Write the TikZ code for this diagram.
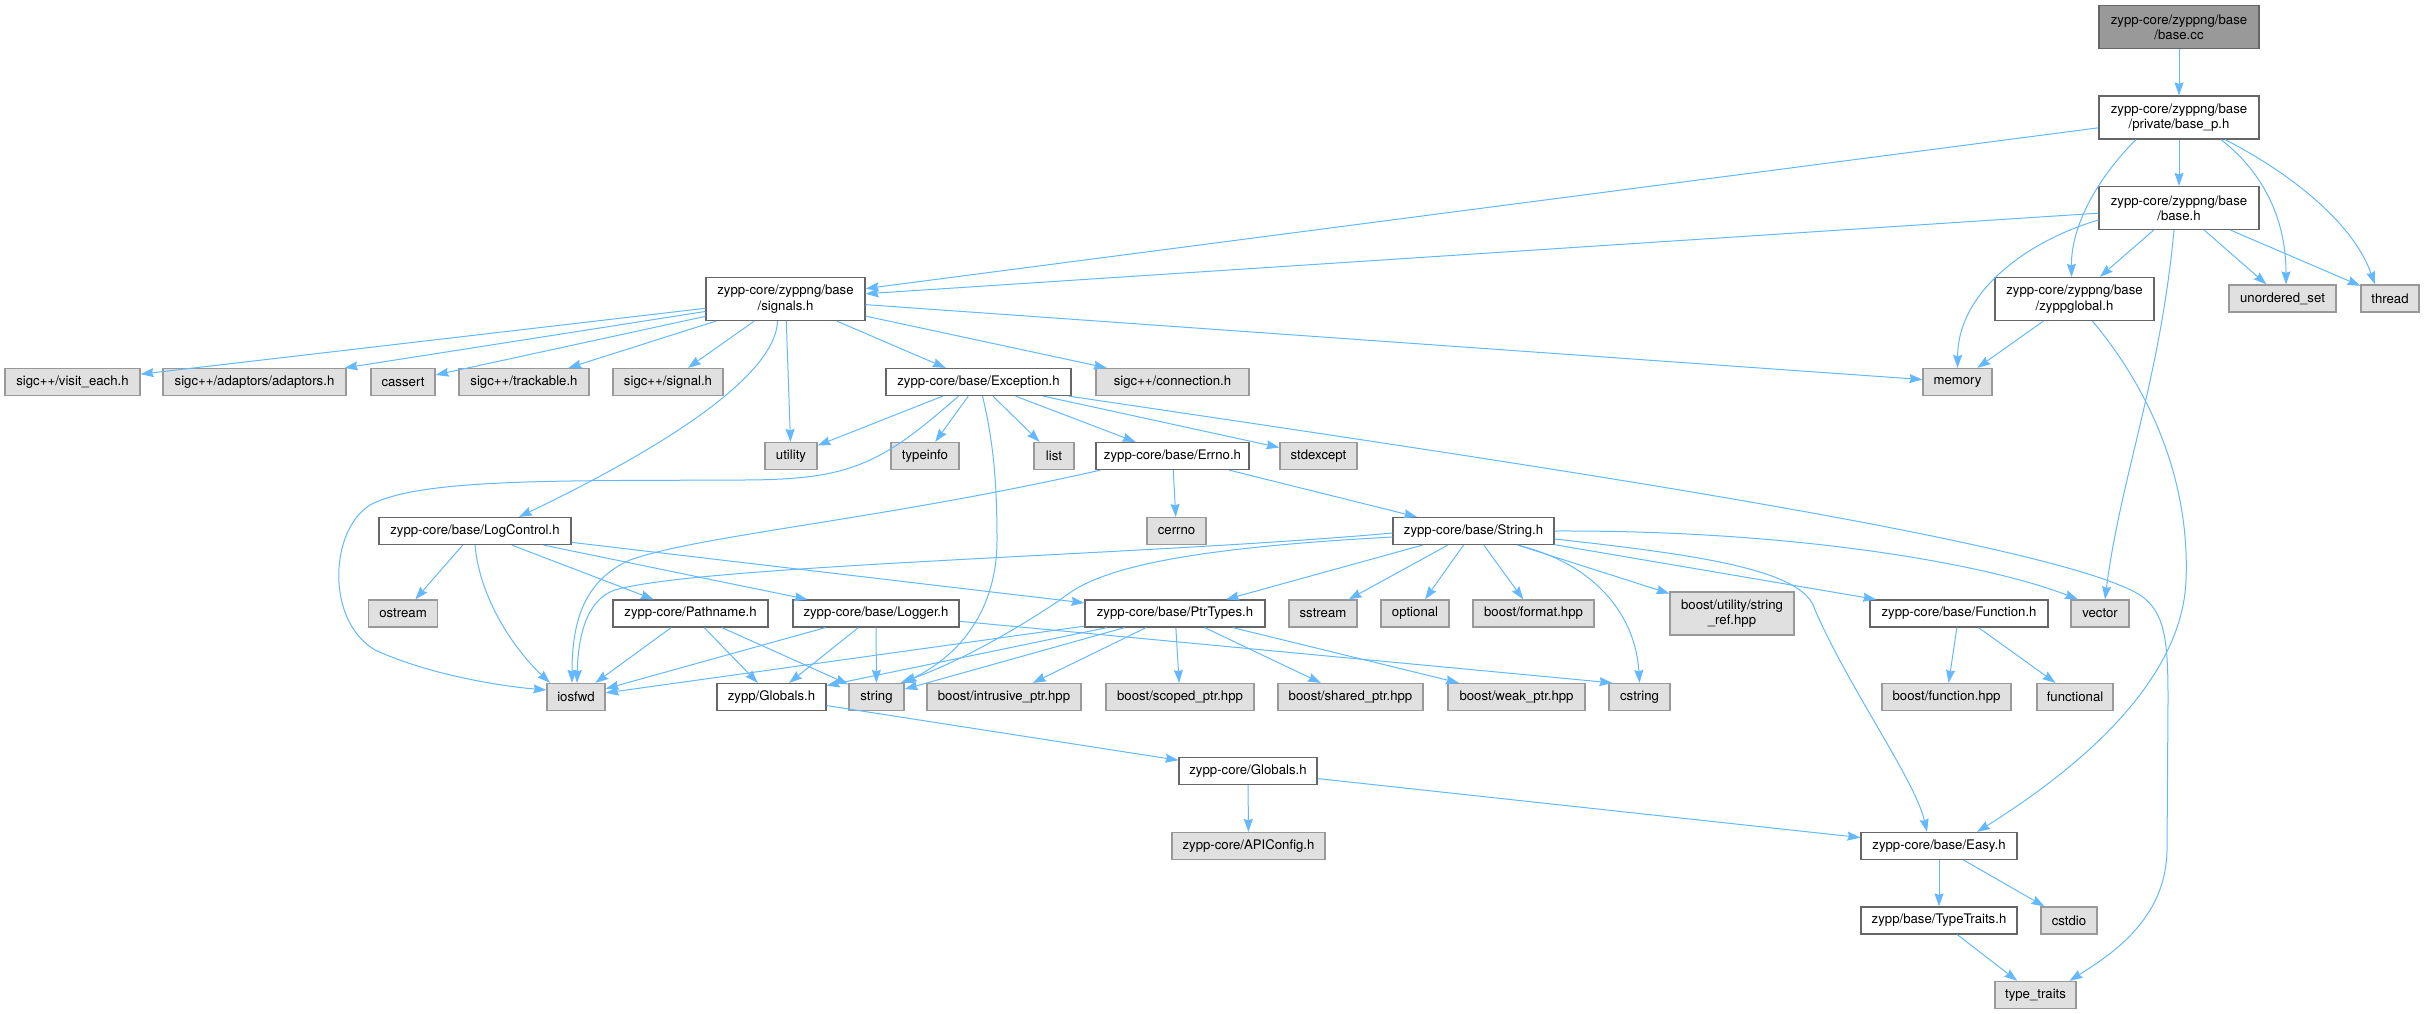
\documentclass[tikz,border=0pt]{standalone}
\usepackage{fontspec}
\setmainfont{TeX Gyre Heros}
\usetikzlibrary{arrows.meta}
\definecolor{edgeblue}{HTML}{63B8FF}
\definecolor{boxline}{HTML}{666666}
\definecolor{sysline}{HTML}{999999}
\definecolor{sysfill}{HTML}{E0E0E0}
\definecolor{rootfill}{HTML}{999999}
\tikzset{
  file/.style={rectangle, draw=boxline, fill=white, line width=1.2pt, inner sep=0pt,
    minimum height=27pt, align=center, font=\fontsize{13.2}{15.3}\selectfont},
  sysfile/.style={file, draw=sysline, fill=sysfill},
  rootfile/.style={file, fill=rootfill},
  twoline/.style={minimum height=43pt},
  dep/.style={draw=edgeblue, line width=1pt, -{Stealth[length=13pt,width=9pt,inset=1.5pt]}}
}
\begin{document}
\begin{tikzpicture}[x=1pt,y=-1pt]
  \useasboundingbox (0,0) rectangle (2424,1013);
  % files of zyppng/base
  \node[rootfile,twoline,minimum width=160pt] (root) at (2179,27) {zypp-core/zyppng/base\\/base.cc};
  \node[file,twoline,minimum width=160pt] (basep) at (2179,117.5) {zypp-core/zyppng/base\\/private/base\_p.h};
  \node[file,twoline,minimum width=160pt] (baseh) at (2179,208) {zypp-core/zyppng/base\\/base.h};
  \node[file,twoline,minimum width=159pt] (zglob) at (2074.5,299) {zypp-core/zyppng/base\\/zyppglobal.h};
  \node[sysfile,minimum width=107pt] (uset) at (2282.5,298.5) {unordered\_set};
  \node[sysfile,minimum width=58pt] (thread) at (2390,298.5) {thread};
  \node[sysfile,minimum width=69pt] (memory) at (1957.5,382) {memory};
  \node[file,twoline,minimum width=159pt] (sig) at (785.5,299) {zypp-core/zyppng/base\\/signals.h};
  % row of sigc++ headers
  \node[sysfile,minimum width=135pt] (visit) at (72.5,382) {sigc++/visit\_each.h};
  \node[sysfile,minimum width=183pt] (adapt) at (254.5,382) {sigc++/adaptors/adaptors.h};
  \node[sysfile,minimum width=64pt] (cassert) at (403,382) {cassert};
  \node[sysfile,minimum width=130pt] (track) at (524,382) {sigc++/trackable.h};
  \node[sysfile,minimum width=110pt] (signal) at (668,382) {sigc++/signal.h};
  \node[file,minimum width=185pt] (exc) at (978.5,382) {zypp-core/base/Exception.h};
  \node[sysfile,minimum width=153pt] (conn) at (1172.5,382) {sigc++/connection.h};
  % exception level
  \node[sysfile,minimum width=52pt] (utility) at (791,456) {utility};
  \node[sysfile,minimum width=68pt] (typeinfo) at (925,456) {typeinfo};
  \node[sysfile,minimum width=40pt] (list) at (1054,456) {list};
  \node[file,minimum width=153pt] (errno) at (1172.5,456) {zypp-core/base/Errno.h};
  \node[sysfile,minimum width=77pt] (stdexc) at (1318.5,456) {stdexcept};
  \node[file,minimum width=192pt] (logc) at (475,531) {zypp-core/base/LogControl.h};
  \node[sysfile,minimum width=59pt] (cerrno) at (1176.5,531) {cerrno};
  \node[file,minimum width=161pt] (strh) at (1473.5,531) {zypp-core/base/String.h};
  % middle row
  \node[sysfile,minimum width=69pt] (ostream) at (403,613.5) {ostream};
  \node[file,minimum width=155pt] (pathn) at (690.5,613.5) {zypp-core/Pathname.h};
  \node[file,minimum width=166pt] (logger) at (876,613.5) {zypp-core/base/Logger.h};
  \node[file,minimum width=180pt] (ptrt) at (1175,613.5) {zypp-core/base/PtrTypes.h};
  \node[sysfile,minimum width=68pt] (sstream) at (1323,613.5) {sstream};
  \node[sysfile,minimum width=68pt] (optional) at (1415,613.5) {optional};
  \node[sysfile,minimum width=121pt] (bformat) at (1533.5,613.5) {boost/format.hpp};
  \node[sysfile,twoline,minimum width=124pt] (sref) at (1732,613.5) {boost/utility/string\\\_ref.hpp};
  \node[file,minimum width=178pt] (func) at (1959,613.5) {zypp-core/base/Function.h};
  \node[sysfile,minimum width=58pt] (vector) at (2100,613.5) {vector};
  % lower row
  \node[sysfile,minimum width=58pt] (iosfwd) at (576,697) {iosfwd};
  \node[file,minimum width=109pt] (zglobh) at (771.5,697) {zypp/Globals.h};
  \node[sysfile,minimum width=55pt] (string) at (876.5,697) {string};
  \node[sysfile,minimum width=154pt] (intr) at (1004,697) {boost/intrusive\_ptr.hpp};
  \node[sysfile,minimum width=148pt] (scoped) at (1180,697) {boost/scoped\_ptr.hpp};
  \node[sysfile,minimum width=145pt] (shared) at (1350.5,697) {boost/shared\_ptr.hpp};
  \node[sysfile,minimum width=137pt] (weak) at (1516.5,697) {boost/weak\_ptr.hpp};
  \node[sysfile,minimum width=61pt] (cstring) at (1639.5,697) {cstring};
  \node[sysfile,minimum width=129pt] (bfunc) at (1946.5,697) {boost/function.hpp};
  \node[sysfile,minimum width=76pt] (functional) at (2075,697) {functional};
  \node[file,minimum width=138pt] (cglob) at (1248,771) {zypp-core/Globals.h};
  \node[sysfile,minimum width=153pt] (apic) at (1248.5,846) {zypp-core/APIConfig.h};
  \node[file,minimum width=156pt] (easy) at (1939,846) {zypp-core/base/Easy.h};
  \node[file,minimum width=156pt] (ttraits) at (1939,920.5) {zypp/base/TypeTraits.h};
  \node[sysfile,minimum width=56pt] (cstdio) at (2069,920.5) {cstdio};
  \node[sysfile,minimum width=81pt] (typetr) at (2035.5,995) {type\_traits};
  % base.cc, base_p.h, base.h
  \draw[dep] (root) -- (basep);
  \draw[dep] (basep) -- (sig);
  \draw[dep] (basep) -- (baseh);
  \draw[dep] ([xshift=-43pt]basep.south) .. controls (2105,170) and (2071,220) .. ([xshift=-3pt]zglob.north);
  \draw[dep] ([xshift=42pt]basep.south) .. controls (2260,170) and (2286,215) .. ([xshift=3.5pt]uset.north);
  \draw[dep] ([xshift=46pt]basep.south) .. controls (2275,165) and (2350,215) .. ([xshift=-15pt]thread.north);
  \draw[dep] (baseh) -- (sig);
  \draw[dep] ([yshift=-12pt]baseh.west) .. controls (2030,240) and (1958,290) .. (memory.north);
  \draw[dep] (baseh) -- (zglob);
  \draw[dep] (baseh) -- (uset);
  \draw[dep] (baseh) -- (thread);
  \draw[dep] ([xshift=-5pt]baseh.south) .. controls (2160,380) and (2120,480) .. ([xshift=5pt]vector.north);
  \draw[dep] (zglob) -- (memory);
  \draw[dep] ([xshift=18pt]zglob.south) .. controls (2150,390) and (2190,480) .. (2186,580)
    .. controls (2182,690) and (2060,780) .. ([xshift=38pt]easy.north);
  % signals.h
  \draw[dep] (sig) -- (visit);
  \draw[dep] (sig) -- (adapt);
  \draw[dep] (sig) -- (cassert);
  \draw[dep] (sig) -- (track);
  \draw[dep] (sig) -- (signal);
  \draw[dep] (sig) -- (utility);
  \draw[dep] (sig) -- (exc);
  \draw[dep] (sig) -- (conn);
  \draw[dep] (sig) -- (memory);
  \draw[dep] ([xshift=-8pt]sig.south) .. controls (775,390) and (600,478) .. ([xshift=44pt]logc.north);
  % Exception.h
  \draw[dep] (exc) -- (utility);
  \draw[dep] ([xshift=-20pt]exc.south) .. controls (880,465) and (850,480) .. (740,480)
    .. controls (560,481) and (420,478) .. (370,505)
    .. controls (330,530) and (325,620) .. (375,650)
    .. controls (430,675) and (500,686) .. ([yshift=7pt]iosfwd.west);
  \draw[dep] (exc) -- (typeinfo);
  \draw[dep] ([xshift=4pt]exc.south) .. controls (993,440) and (997,480) .. (997,540)
    .. controls (997,610) and (960,655) .. ([xshift=27pt]string.north);
  \draw[dep] (exc) -- (list);
  \draw[dep] (exc) -- (errno);
  \draw[dep] (exc) -- (stdexc);
  \draw[dep] ([xshift=-3pt]exc.south east) .. controls (1500,460) and (2050,540) .. (2140,595)
    .. controls (2165,612) and (2168,640) .. (2168,700) -- (2167,850)
    .. controls (2166,920) and (2110,955) .. ([xshift=34pt]typetr.north);
  % Errno.h
  \draw[dep] (errno) -- (cerrno);
  \draw[dep] (errno) -- (strh);
  \draw[dep] ([xshift=-72pt]errno.south) .. controls (880,520) and (700,535) .. (630,560)
    .. controls (585,580) and (572,620) .. ([xshift=-4pt]iosfwd.north);
  % String.h
  \draw[dep] ([yshift=-2pt]strh.west) .. controls (1150,555) and (700,565) .. (615,590)
    .. controls (585,600) and (578,640) .. ([xshift=1pt]iosfwd.north);
  \draw[dep] ([yshift=-6pt]strh.west) .. controls (1150,550) and (1090,575) .. (1060,600)
    .. controls (1000,640) and (950,665) .. ([xshift=24pt]string.north);
  \draw[dep] (strh) -- (ptrt);
  \draw[dep] (strh) -- (sstream);
  \draw[dep] (strh) -- (optional);
  \draw[dep] (strh) -- (bformat);
  \draw[dep] ([xshift=44pt]strh.south) .. controls (1600,565) and (1636,620) .. (cstring.north);
  \draw[dep] (strh) -- (sref);
  \draw[dep] (strh) -- (func);
  \draw[dep] (strh.east) .. controls (1800,530) and (1990,565) .. ([xshift=-22pt]vector.north);
  \draw[dep] ([yshift=-8pt]strh.east) .. controls (1700,555) and (1805,570) .. (1815,610)
    .. controls (1850,690) and (1915,780) .. ([xshift=-12pt]easy.north);
  % LogControl.h, Pathname.h, Logger.h
  \draw[dep] (logc) -- (ostream);
  \draw[dep] (logc.south) .. controls (480,600) and (515,650) .. ([xshift=-26pt]iosfwd.north);
  \draw[dep] (logc) -- (pathn);
  \draw[dep] (logc) -- (logger);
  \draw[dep] (logc) -- (ptrt);
  \draw[dep] (pathn) -- (iosfwd);
  \draw[dep] (pathn) -- (zglobh);
  \draw[dep] (pathn) -- (string);
  \draw[dep] (logger) -- (iosfwd);
  \draw[dep] (logger) -- (zglobh);
  \draw[dep] (logger) -- (string);
  \draw[dep] (logger) -- ([xshift=4pt]cstring.north west);
  % PtrTypes.h
  \draw[dep] (ptrt) -- (iosfwd);
  \draw[dep] (ptrt) -- (zglobh);
  \draw[dep] (ptrt) -- (string);
  \draw[dep] (ptrt) -- (intr);
  \draw[dep] (ptrt) -- (scoped);
  \draw[dep] (ptrt) -- (shared);
  \draw[dep] (ptrt) -- (weak);
  % lower part
  \draw[dep] (zglobh) -- (cglob);
  \draw[dep] (cglob) -- (apic);
  \draw[dep] (cglob) -- (easy);
  \draw[dep] (easy) -- (ttraits);
  \draw[dep] (easy) -- (cstdio);
  \draw[dep] (ttraits) -- (typetr);
  \draw[dep] (func) -- (bfunc);
  \draw[dep] (func) -- (functional);
\end{tikzpicture}
\end{document}
